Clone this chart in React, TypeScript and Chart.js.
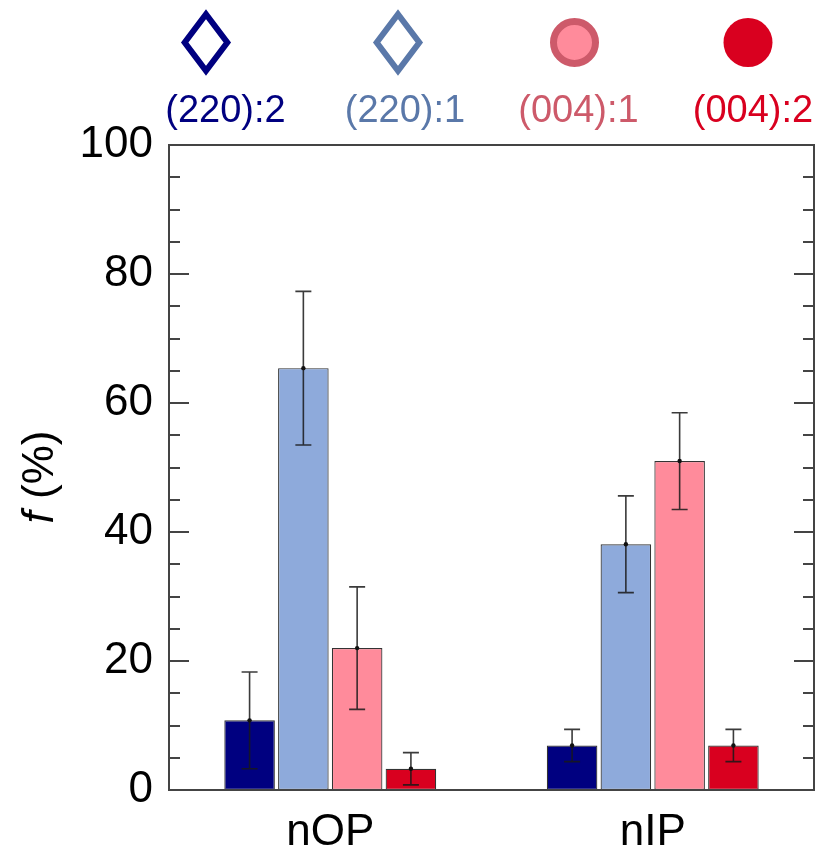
import React, { useEffect, useRef } from "react";
import { Chart, registerables } from "chart.js";

Chart.register(...registerables);

// Categories and series
const categories = ["nOP", "nIP"];
const seriesLabels = ["(220):2", "(220):1", "(004):1", "(004):2"];
const values220_2 = [10.8, 6.9];
const values220_1 = [65.4, 38.1];
const values004_1 = [22.0, 51.0];
const values004_2 = [3.3, 6.9];
// Symmetric error half-widths
const err220_2 = [7.5, 2.5];
const err220_1 = [11.9, 7.5];
const err004_1 = [9.5, 7.5];
const err004_2 = [2.5, 2.5];
const yTicks = [0, 20, 40, 60, 80, 100];

const FONT = "'Liberation Sans', Arial, Helvetica, sans-serif";

const barFills = ["#000080", "#8eaadb", "#ff8b9b", "#d9001f"];
const legendColors = ["#000080", "#5a78a9", "#cd5a6a", "#d9001f"];

const seriesValues = [values220_2, values220_1, values004_1, values004_2];
const seriesErrors = [err220_2, err220_1, err004_1, err004_2];

const frameAndExtras = {
  id: "frameAndExtras",
  afterDatasetsDraw(chart: any) {
    const ctx = chart.ctx;
    const ys = chart.scales.y;
    ctx.save();
    // error bars
    chart.data.datasets.forEach((ds: any, i: number) => {
      const meta = chart.getDatasetMeta(i);
      meta.data.forEach((el: any, j: number) => {
        const v = ds.data[j];
        const e = ds.errors[j];
        const x = el.x;
        const yt = ys.getPixelForValue(v + e);
        const yb = ys.getPixelForValue(v - e);
        const yv = ys.getPixelForValue(v);
        ctx.strokeStyle = "rgba(25,25,25,0.85)";
        ctx.lineWidth = 1.6;
        ctx.beginPath();
        ctx.moveTo(x, yt);
        ctx.lineTo(x, yb);
        ctx.moveTo(x - 8, yt);
        ctx.lineTo(x + 8, yt);
        ctx.moveTo(x - 8, yb);
        ctx.lineTo(x + 8, yb);
        ctx.stroke();
        ctx.fillStyle = "#111";
        ctx.beginPath();
        ctx.arc(x, yv, 2.2, 0, Math.PI * 2);
        ctx.fill();
      });
    });
    ctx.restore();
  },
  afterDraw(chart: any) {
    const ctx = chart.ctx;
    const { left, right, top, bottom } = chart.chartArea;
    const ys = chart.scales.y;
    ctx.save();
    // frame
    ctx.strokeStyle = "#444";
    ctx.lineWidth = 2;
    ctx.strokeRect(left, top, right - left, bottom - top);
    // inward ticks on both sides
    for (let v = 0; v <= 100; v += 5) {
      const py = Math.round(ys.getPixelForValue(v));
      const len = v % 20 === 0 ? 20 : 11;
      ctx.beginPath();
      ctx.moveTo(left, py);
      ctx.lineTo(left + len, py);
      ctx.moveTo(right, py);
      ctx.lineTo(right - len, py);
      ctx.stroke();
    }
    // y axis title: italic f followed by (%)
    ctx.translate(53, 477);
    ctx.rotate(-Math.PI / 2);
    ctx.fillStyle = "#000";
    ctx.textBaseline = "alphabetic";
    const fItalic = `italic 44px ${FONT}`;
    const fNormal = `44px ${FONT}`;
    ctx.font = fItalic;
    const w1 = ctx.measureText("f").width;
    ctx.font = fNormal;
    const w2 = ctx.measureText(" (%)").width;
    const start = -(w1 + w2) / 2;
    ctx.font = fItalic;
    ctx.textAlign = "left";
    ctx.fillText("f", start, 0);
    ctx.font = fNormal;
    ctx.fillText(" (%)", start + w1, 0);
    ctx.restore();

    // legend: markers above their labels
    ctx.save();
    const centersX = [206, 398, 574.5, 748];
    const labelX = [225.5, 405, 578.5, 753];
    const my = 42.5;
    // diamonds
    [0, 1].forEach((k) => {
      ctx.strokeStyle = legendColors[k];
      ctx.lineWidth = 6;
      ctx.lineJoin = "miter";
      ctx.beginPath();
      const cx = centersX[k];
      ctx.moveTo(cx, my - 28.3);
      ctx.lineTo(cx + 21.3, my);
      ctx.lineTo(cx, my + 28.3);
      ctx.lineTo(cx - 21.3, my);
      ctx.closePath();
      ctx.stroke();
    });
    // ringed pink circle
    ctx.fillStyle = "#ff8b9b";
    ctx.strokeStyle = legendColors[2];
    ctx.lineWidth = 7;
    ctx.beginPath();
    ctx.arc(centersX[2], my, 21, 0, Math.PI * 2);
    ctx.fill();
    ctx.stroke();
    // solid red circle
    ctx.fillStyle = legendColors[3];
    ctx.beginPath();
    ctx.arc(centersX[3], my, 24.5, 0, Math.PI * 2);
    ctx.fill();
    // labels
    ctx.font = `38px ${FONT}`;
    ctx.textAlign = "center";
    ctx.textBaseline = "alphabetic";
    seriesLabels.forEach((t, k) => {
      ctx.fillStyle = legendColors[k];
      ctx.fillText(t, labelX[k], 122);
    });
    ctx.restore();
  },
};

export default function App() {
  const canvasRef = useRef<HTMLCanvasElement | null>(null);

  useEffect(() => {
    const canvas = canvasRef.current;
    if (!canvas) return;
    const chart = new Chart(canvas, {
      type: "bar",
      data: {
        labels: categories,
        datasets: seriesLabels.map((label, i) => ({
          label,
          data: seriesValues[i],
          errors: seriesErrors[i],
          backgroundColor: barFills[i],
          borderColor: "#333",
          borderWidth: 1.2,
          borderSkipped: false,
          categoryPercentage: 0.667,
          barPercentage: 0.94,
        })) as any,
      },
      options: {
        responsive: false,
        animation: false,
        devicePixelRatio: 1,
        layout: { padding: { top: 145, right: 10, left: 0, bottom: 0 } },
        plugins: {
          legend: { display: false },
          tooltip: { enabled: false },
        },
        scales: {
          x: {
            grid: { display: false, drawTicks: false },
            border: { display: false },
            ticks: {
              color: "#000",
              font: { family: FONT, size: 44 },
              padding: 16,
            },
            afterFit: (s: any) => {
              s.height = 66;
            },
          },
          y: {
            min: 0,
            max: 100,
            grid: { display: false, drawTicks: false },
            border: { display: false },
            afterBuildTicks: (s: any) => {
              s.ticks = yTicks.map((v) => ({ value: v }));
            },
            ticks: {
              color: "#000",
              font: { family: FONT, size: 44 },
              padding: 16,
            },
            afterFit: (s: any) => {
              s.width = 169;
            },
          },
        },
      },
      plugins: [frameAndExtras],
    });
    return () => chart.destroy();
  }, []);

  return (
    <div style={{ position: "absolute", left: 0, top: 0, width: 824, height: 856, background: "#fff" }}>
      <canvas ref={canvasRef} width={824} height={856} style={{ display: "block" }} />
    </div>
  );
}
